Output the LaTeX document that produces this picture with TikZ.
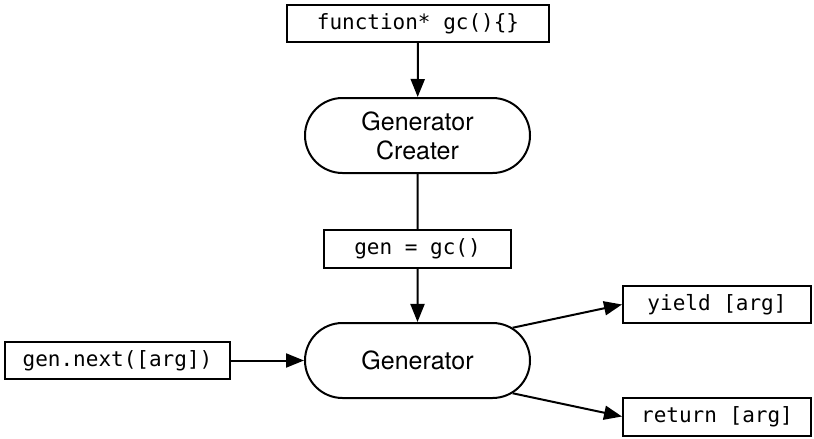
\documentclass[tikz,border=0pt]{standalone}
\usepackage{fontspec}
\setmainfont{TeX Gyre Heros}
\setmonofont{DejaVu Sans Mono}
\usetikzlibrary{arrows.meta,shapes.misc}

\tikzset{
	caixa/.style={draw, line width=2pt, inner sep=0pt, minimum height=37pt, font=\ttfamily\fontsize{21}{25}\selectfont},
	capsula/.style={draw, rounded rectangle, line width=2pt, inner sep=0pt, minimum width=225pt, minimum height=75pt, align=center, font=\fontsize{25}{29}\selectfont},
	seta/.style={-{Triangle[length=18pt,width=14pt]}, line width=2pt},
	linha/.style={line width=2pt}
}

\begin{document}
\begin{tikzpicture}[x=1pt,y=-1pt] %Início do desenho, unidade de 1 pixel
	\useasboundingbox (0,0) rectangle (814,439); %Margens da figura
		%Caixas e cápsulas
	\node[caixa, minimum width=262pt] (funcao) at (418,23.5) {function* gc()\{\}}; %Declaração
	\node[capsula] (criador) at (417.5,135.5) {Generator\\Creater}; %Criador
	\node[caixa, minimum width=187pt, minimum height=38pt] (gen) at (417.5,249) {gen = gc()}; %Chamada
	\node[capsula] (gerador) at (417.5,360.5) {Generator}; %Gerador
	\node[caixa, minimum width=225pt] (proximo) at (117.5,360.5) {gen.next([arg])}; %Entrada
	\node[caixa, minimum width=188pt] (yield) at (717,304.5) {yield [arg]}; %Saída 1
	\node[caixa, minimum width=188pt, minimum height=38pt] (retorno) at (717,416.5) {return [arg]}; %Saída 2
		%Conexões
	\draw[seta] (funcao) -- (criador); %Declaração para criador
	\draw[linha] (criador) -- (gen); %Criador para chamada
	\draw[seta] (gen) -- (gerador); %Chamada para gerador
	\draw[seta] (proximo) -- (gerador); %Entrada para gerador
	\draw[seta] (gerador.19) -- (yield.west); %Gerador para yield
	\draw[seta] (gerador.-19) -- (retorno.west); %Gerador para return
\end{tikzpicture}
\end{document}
